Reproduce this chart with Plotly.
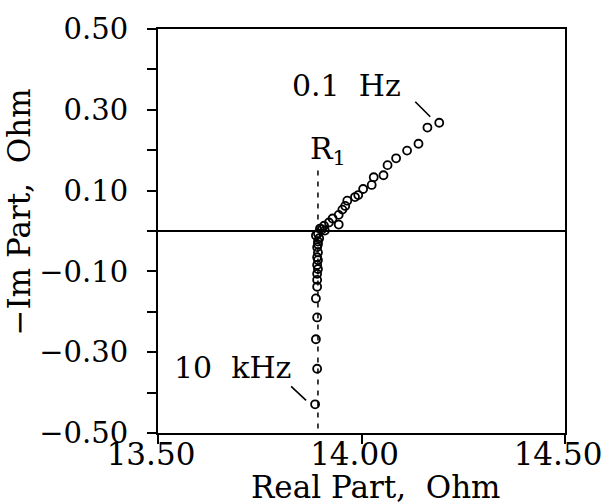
import plotly.graph_objects as go

# Impedance spectrum, 0.1 Hz (first) to 10 kHz (last)
real_part = [14.191, 14.162, 14.140, 14.112, 14.085, 14.064, 14.054, 14.030, 14.025, 14.004,
             13.992, 13.984, 13.965, 13.960, 13.953, 13.944, 13.944, 13.929, 13.920, 13.908,
             13.898, 13.910, 13.903, 13.893, 13.888, 13.896, 13.893, 13.893, 13.891, 13.893,
             13.891, 13.893, 13.891, 13.893, 13.891, 13.891, 13.891, 13.888, 13.891, 13.888,
             13.891, 13.886]
neg_imag = [0.268, 0.256, 0.216, 0.199, 0.180, 0.163, 0.138, 0.133, 0.114, 0.104,
            0.089, 0.084, 0.075, 0.062, 0.053, 0.040, 0.016, 0.031, 0.021, 0.013,
            0.006, 0.001, 0.004, -0.006, -0.011, -0.018, -0.026, -0.033, -0.040, -0.053,
            -0.065, -0.072, -0.084, -0.094, -0.106, -0.121, -0.138, -0.167, -0.214, -0.268,
            -0.341, -0.429]
r1_value = 13.893

x_ticks = [13.5, 14.0, 14.5]
y_ticks = [-0.5, -0.3, -0.1, 0.1, 0.3, 0.5]
y_minor_ticks = [-0.4, -0.2, 0.0, 0.2, 0.4]

FONT = "DejaVu Serif"
BLACK = "black"
fig = go.Figure()

fig.add_trace(go.Scatter(
    x=real_part, y=neg_imag, mode="markers",
    marker=dict(symbol="circle-open", size=8, color=BLACK, line=dict(width=1.8, color=BLACK)),
    showlegend=False, hoverinfo="skip"))

# zero line
fig.add_shape(type="line", xref="paper", yref="y", x0=0, x1=1, y0=0, y1=0,
              line=dict(color=BLACK, width=2))
# R1 marker line
fig.add_shape(type="line", xref="x", yref="y", x0=r1_value, x1=r1_value, y0=0.15, y1=-0.5,
              line=dict(color=BLACK, width=1.5, dash="5px,6px"))
# leader lines to the end points
lo, hi = 0, len(real_part) - 1
fig.add_shape(type="line", xsizemode="pixel", ysizemode="pixel",
              xanchor=real_part[lo], yanchor=neg_imag[lo], xref="x", yref="y",
              x0=-24, x1=-9, y0=21, y1=6, line=dict(color=BLACK, width=1.6))
fig.add_shape(type="line", xsizemode="pixel", ysizemode="pixel",
              xanchor=real_part[hi], yanchor=neg_imag[hi], xref="x", yref="y",
              x0=-24, x1=-9, y0=18, y1=4, line=dict(color=BLACK, width=1.6))

label_font = dict(family=FONT, size=30, color=BLACK)
title_font = dict(family=FONT, size=31, color=BLACK)
fig.add_annotation(x=13.963, y=0.361, text="0.1  Hz", showarrow=False, font=label_font)
fig.add_annotation(x=13.683, y=-0.339, text="10  kHz", showarrow=False, font=label_font)
fig.add_annotation(x=13.917, y=0.199, text="R<sub>1</sub>", showarrow=False, font=label_font)

# axis titles
fig.add_annotation(xref="paper", yref="paper", x=0.535, y=-0.134, text="Real Part,  Ohm",
                   showarrow=False, font=title_font, xanchor="center", yanchor="middle")
fig.add_annotation(xref="paper", yref="paper", x=-0.342, y=0.548, text="−Im Part,  Ohm",
                   textangle=-90, showarrow=False, font=title_font,
                   xanchor="center", yanchor="middle")

axis_common = dict(showline=True, linecolor=BLACK, linewidth=2, mirror=True,
                   showgrid=False, zeroline=False, ticks="outside", ticklen=9,
                   tickwidth=1.5, tickcolor=BLACK, ticklabeloverflow="allow")

fig.update_xaxes(range=[13.5, 14.5], tickvals=x_ticks, tickformat=".2f",
                 tickfont=dict(family=FONT, size=31, color=BLACK),
                 ticklabelshift=-7, ticklabelstandoff=-16, **axis_common)
fig.update_yaxes(range=[-0.5, 0.5], tickvals=y_ticks, tickformat=".2f",
                 tickfont=dict(family=FONT, size=29, color=BLACK),
                 ticklabelstandoff=13,
                 minor=dict(tickvals=y_minor_ticks, ticks="outside", ticklen=9,
                            tickwidth=1.5, tickcolor=BLACK),
                 **axis_common)

fig.update_layout(width=614, height=504, margin=dict(l=158, r=39, t=24, b=71),
                  paper_bgcolor="white", plot_bgcolor="white")

fig.write_html("out.html")
